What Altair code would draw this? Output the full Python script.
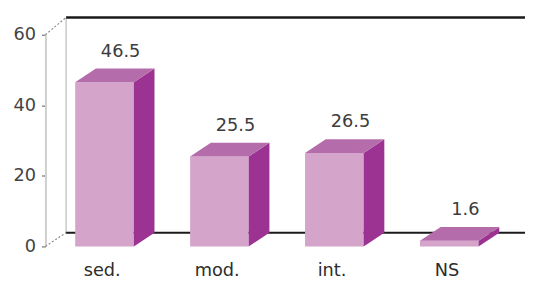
import altair as alt
import pandas as pd

categories = ["sed.", "mod.", "int.", "NS"]
values = [46.5, 25.5, 26.5, 1.6]
y_ticks = [0, 20, 40, 60]

# geometry (in scale units)
HW = 0.255      # half width of front face
DX = 0.18       # depth in x units
DY = 3.9        # depth in y units
X0, X1 = -0.514, 3.659
WALL_TOP = 64.9

front_rows, side_rows, top_rows, lab_rows = [], [], [], []
for i, (c, v) in enumerate(zip(categories, values)):
    front_rows.append(dict(cat=c, x=i - HW, x2=i + HW, y=0, y2=v))
    side_rows += [dict(cat=c, x=i + HW, y=0, y2=v),
                  dict(cat=c, x=i + HW + DX, y=DY, y2=v + DY)]
    top_rows += [dict(cat=c, x=i - HW, y=v, y2=v),
                 dict(cat=c, x=i - HW + DX, y=v, y2=v + DY),
                 dict(cat=c, x=i + HW, y=v, y2=v + DY),
                 dict(cat=c, x=i + HW + DX, y=v + DY, y2=v + DY)]
    lab_rows.append(dict(cat=c, x=i - 0.02, xv=i + 0.14, v=v, vt=v + DY, txt=f"{v}"))

front = pd.DataFrame(front_rows)
side = pd.DataFrame(side_rows)
top = pd.DataFrame(top_rows)
labs = pd.DataFrame(lab_rows)

xs = alt.Scale(domain=[X0, X1], nice=False, zero=False)
ys = alt.Scale(domain=[0, 60], nice=False, zero=False)

lines = pd.DataFrame([
    dict(k="wall", x=X0 + DX, y=DY, x2=X0 + DX, y2=WALL_TOP),
])
black = pd.DataFrame([
    dict(k="top", x=X0 + DX, y=WALL_TOP, x2=X1, y2=WALL_TOP, w=2.5),
    dict(k="floor", x=X0 + DX, y=DY, x2=X1, y2=DY, w=2),
])
slant = pd.DataFrame([
    dict(k="b", x=X0, y=0, x2=X0 + DX, y2=DY),
    dict(k="t", x=X0, y=60, x2=X0 + DX, y2=WALL_TOP),
])

X = lambda f: alt.X(f, type="quantitative", scale=xs, axis=None)

axis_layer = alt.Chart(pd.DataFrame({"t": y_ticks})).mark_point(opacity=0).encode(
    y=alt.Y("t:Q", scale=ys, title=None,
            axis=alt.Axis(values=y_ticks, grid=False, domainColor="#cfcfcf", domainWidth=2,
                          tickColor="#555", tickSize=4, labelPadding=6,
                          labelFontSize=18, labelColor="#444", labelFont="DejaVu Sans")),
    x=alt.value(0),
)

wall = alt.Chart(lines).mark_rule(color="#c8c8c8", strokeWidth=1.5).encode(
    x=X("x"), x2="x2", y=alt.Y("y:Q", scale=ys), y2="y2")
blk = alt.Chart(black).mark_rule(color="#1a1a1a").encode(
    x=X("x"), x2="x2", y=alt.Y("y:Q", scale=ys), y2="y2",
    strokeWidth=alt.StrokeWidth("w:Q", scale=None, legend=None))
sl = alt.Chart(slant).mark_rule(color="#888", strokeWidth=1.2, strokeDash=[2, 2]).encode(
    x=X("x"), x2="x2", y=alt.Y("y:Q", scale=ys), y2="y2")

front_l = alt.Chart(front).mark_rect(color="#D5A4CB").encode(
    x=X("x"), x2="x2", y=alt.Y("y:Q", scale=ys), y2="y2")
side_l = alt.Chart(side).mark_area(color="#9C3393").encode(
    x=X("x"), y=alt.Y("y:Q", scale=ys, stack=None), y2="y2", detail="cat:N")
top_l = alt.Chart(top).mark_area(color="#B56CAB").encode(
    x=X("x"), y=alt.Y("y:Q", scale=ys, stack=None), y2="y2", detail="cat:N")

val_t = alt.Chart(labs).mark_text(fontSize=18, font="DejaVu Sans", color="#3c3c3c",
                                  baseline="alphabetic", dy=-12).encode(
    x=X("xv"), y=alt.Y("vt:Q", scale=ys), text="txt:N")
cat_t = alt.Chart(labs).mark_text(fontSize=18, font="DejaVu Sans", color="#2c2c2c",
                                  baseline="alphabetic", dy=30).encode(
    x=X("x"), y=alt.value(215), text="cat:N")

chart = alt.layer(axis_layer, wall, sl, blk, front_l, side_l, top_l, val_t, cat_t).properties(
    width=487, height=215,
    autosize=alt.AutoSizeParams(type="none"),
    padding={"left": 38, "top": 25, "right": 0, "bottom": 33},
).configure_view(stroke=None)

chart.save("out.html", embed_options={"renderer": "svg", "actions": False})
